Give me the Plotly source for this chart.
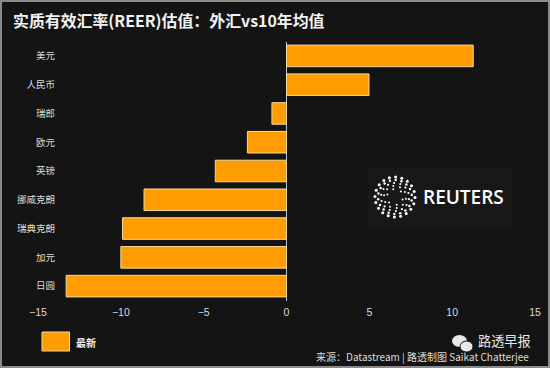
import math
import urllib.parse
import plotly.graph_objects as go

W, H = 550, 368
categories = ["美元", "人民币", "瑞郎", "欧元", "英镑", "挪威克朗", "瑞典克朗", "加元", "日圆"]
values = [11.27, 4.98, -0.88, -2.36, -4.3, -8.6, -9.9, -10.0, -13.3]
x_ticks = [-15, -10, -5, 0, 5, 10, 15]
series_name = "最新"
title = "实质有效汇率(REER)估值：外汇vs10年均值"
source = "来源：Datastream | 路透制图 Saikat Chatterjee"
wechat = "路透早报"
BG = "#141414"
BAR = "#ff9c00"
EDGE = "#f3d9a0"
TXT = "#dcdcdc"
FONT = "Noto Sans CJK SC, Liberation Sans, sans-serif"


def px(x):
    return x / W


def py(y):
    return 1 - y / H


def logo_uri():
    dots = []
    rings = [(8, 6, 1.0), (11, 10, 1.0), (14, 14, 1.1), (17, 18, 1.25), (20, 20, 1.5)]
    for r, n, s in rings:
        for k in range(n):
            a = 2 * math.pi * k / n + r * 0.3
            dots.append(
                f'<circle cx="{22 + r * math.cos(a):.1f}" cy="{22 + r * math.sin(a):.1f}" r="{s}" fill="#fff"/>'
            )
    svg = f'<svg xmlns="http://www.w3.org/2000/svg" width="44" height="44" viewBox="0 0 44 44">{"".join(dots)}</svg>'
    return "data:image/svg+xml," + urllib.parse.quote(svg)


fig = go.Figure(
    go.Bar(
        y=categories,
        x=values,
        orientation="h",
        name=series_name,
        marker=dict(color=BAR, line=dict(color=EDGE, width=1)),
        showlegend=False,
    )
)

shapes = [
    # outer frame
    dict(type="rect", xref="paper", yref="paper", x0=px(1), x1=px(549), y0=py(367), y1=py(1),
         line=dict(color="#8a8a8a", width=2), layer="below"),
    # legend swatch
    dict(type="rect", xref="paper", yref="paper", x0=px(42), x1=px(69.5), y0=py(351), y1=py(332),
         fillcolor=BAR, line=dict(color=EDGE, width=1)),
    # logo panel
    dict(type="rect", xref="paper", yref="paper", x0=px(368), x1=px(512), y0=py(230), y1=py(168),
         fillcolor="#181818", line=dict(width=0), layer="below"),
    # WeChat bubbles
    dict(type="circle", xref="paper", yref="paper", x0=px(452), x1=px(467), y0=py(347), y1=py(335),
         fillcolor="#e8e8e8", line=dict(width=0)),
    dict(type="circle", xref="paper", yref="paper", x0=px(460), x1=px(473), y0=py(352), y1=py(341),
         fillcolor="#e8e8e8", line=dict(color=BG, width=1)),
]

annotations = [
    dict(text=title, x=px(11), y=py(21), xref="paper", yref="paper", xanchor="left", yanchor="middle",
         showarrow=False, font=dict(size=15.9, color="#f2f2f2", family=FONT, weight="bold")),
    dict(text=series_name, x=px(74), y=py(342), xref="paper", yref="paper", xanchor="left", yanchor="middle",
         showarrow=False, font=dict(size=10, color="#f0f0f0", family=FONT, weight="bold")),
    dict(text=source, x=px(531), y=py(356), xref="paper", yref="paper", xanchor="right", yanchor="middle",
         showarrow=False, font=dict(size=10, color=TXT, family=FONT)),
    dict(text=wechat, x=px(476), y=py(340), xref="paper", yref="paper", xanchor="left", yanchor="middle",
         showarrow=False, font=dict(size=13.2, color="#e8e8e8", family=FONT)),
    dict(text="REUTERS", x=px(421), y=py(197), xref="paper", yref="paper", xanchor="left", yanchor="middle",
         showarrow=False, font=dict(size=19, color="#ffffff", family="Open Sans, Liberation Sans, sans-serif", weight=600)),
]

fig.update_layout(
    width=W, height=H,
    margin=dict(l=0, r=0, t=0, b=0, autoexpand=False),
    paper_bgcolor=BG, plot_bgcolor=BG,
    bargap=0.25,
    showlegend=False,
    shapes=shapes,
    annotations=annotations,
    images=[dict(source=logo_uri(), xref="paper", yref="paper", x=px(373), y=py(175), sizex=44 / W,
                 sizey=44 / H, xanchor="left", yanchor="top", layer="above")],
    xaxis=dict(
        domain=[px(38), px(535)], range=[-15, 15], tickvals=x_ticks, showgrid=False,
        zeroline=True, zerolinecolor="#b9c4cf", zerolinewidth=1, showline=False, ticks="",
        tickfont=dict(size=10.5, color=TXT, family="Liberation Sans, sans-serif"), ticklabelstandoff=4,
    ),
    yaxis=dict(
        domain=[py(300.5), py(41.5)], autorange="reversed", type="category", showgrid=False,
        anchor="free", position=px(57),
        showline=False, ticks="", ticklabelstandoff=2, automargin=False,
        tickfont=dict(size=9.5, color=TXT, family=FONT),
    ),
)
fig.write_html("out.html", config=dict(displayModeBar=False), post_script="document.body.style.margin='0';")
